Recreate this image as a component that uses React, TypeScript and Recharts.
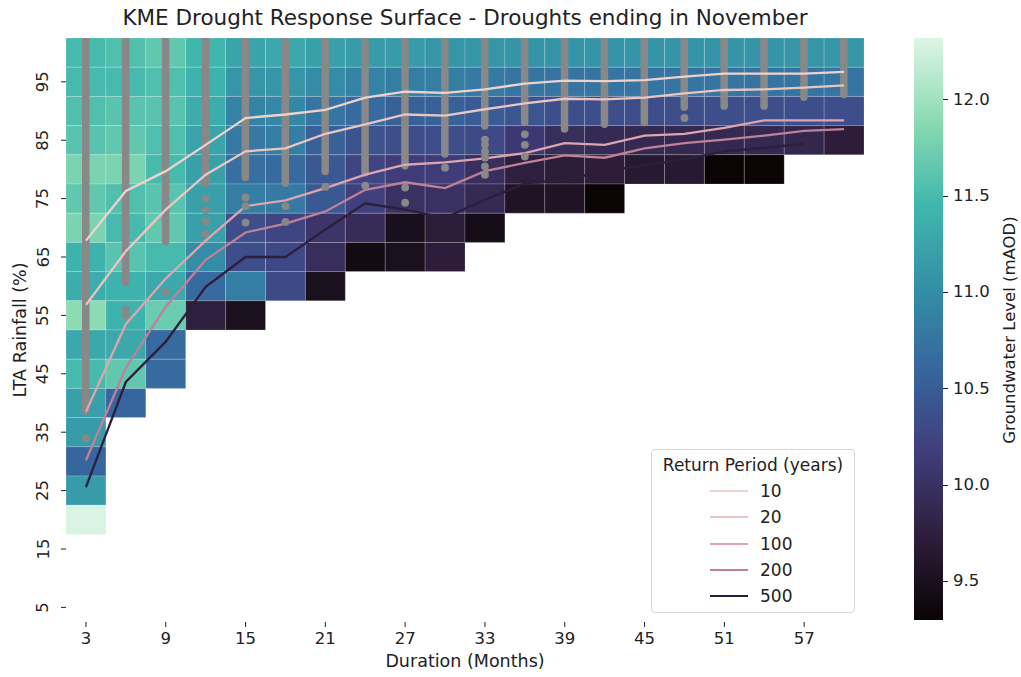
import React from 'react';
import { ComposedChart, XAxis, YAxis, Line, Bar, Scatter, ReferenceArea, Legend } from 'recharts';

const durations = [3, 6, 9, 12, 15, 18, 21, 24, 27, 30, 33, 36, 39, 42, 45, 48, 51, 54, 57, 60];
const rainfallRows = [100, 95, 90, 85, 80, 75, 70, 65, 60, 55, 50, 45, 40, 35, 30, 25, 20];

const _ = null;
// groundwater level (mAOD), one row per rainfall %, one column per duration
const groundwaterLevel: (number | null)[][] = [
  [11.5, 11.55, 11.65, 11.45, 11.25, 11.3, 11.2, 11.15, 11.15, 11.1, 11.1, 11.08, 11.08, 11.08, 11.08, 11.08, 11.08, 11.08, 11.1, 11.1],
  [11.5, 11.5, 11.55, 11.4, 11.1, 11.1, 11.0, 10.9, 10.85, 10.85, 10.8, 10.75, 10.75, 10.75, 10.75, 10.75, 10.75, 10.75, 10.75, 10.75],
  [11.55, 11.6, 11.6, 11.35, 10.9, 10.95, 10.75, 10.65, 10.55, 10.55, 10.5, 10.42, 10.35, 10.35, 10.35, 10.35, 10.35, 10.35, 10.35, 10.35],
  [11.6, 11.65, 11.55, 11.25, 10.8, 10.85, 10.55, 10.4, 10.35, 10.35, 10.3, 10.1, 9.95, 9.9, 9.88, 9.88, 9.88, 9.88, 9.85, 9.72],
  [11.8, 11.8, 11.5, 11.2, 10.7, 10.65, 10.45, 10.25, 10.15, 10.15, 9.97, 9.75, 9.7, 9.72, 9.65, 9.65, 9.3, 9.3, _, _],
  [11.65, 11.55, 11.6, 11.2, 10.85, 10.8, 10.45, 10.2, 10.0, 10.0, 9.9, 9.55, 9.55, 9.3, _, _, _, _, _, _],
  [11.8, 11.5, 11.65, 11.2, 10.35, 10.25, 10.05, 9.92, 9.48, 9.7, 9.45, _, _, _, _, _, _, _, _, _],
  [11.4, 11.6, 11.5, 11.0, 10.35, 10.28, 9.95, 9.4, 9.5, 9.72, _, _, _, _, _, _, _, _, _, _],
  [11.35, 11.4, 11.3, 10.65, 10.85, 10.3, 9.5, _, _, _, _, _, _, _, _, _, _, _, _, _],
  [11.9, 11.4, 11.7, 9.75, 9.5, _, _, _, _, _, _, _, _, _, _, _, _, _, _, _],
  [11.3, 11.3, 10.65, _, _, _, _, _, _, _, _, _, _, _, _, _, _, _, _, _],
  [11.5, 11.65, 10.65, _, _, _, _, _, _, _, _, _, _, _, _, _, _, _, _, _],
  [11.2, 10.6, _, _, _, _, _, _, _, _, _, _, _, _, _, _, _, _, _, _],
  [11.15, _, _, _, _, _, _, _, _, _, _, _, _, _, _, _, _, _, _, _],
  [10.6, _, _, _, _, _, _, _, _, _, _, _, _, _, _, _, _, _, _, _],
  [11.15, _, _, _, _, _, _, _, _, _, _, _, _, _, _, _, _, _, _, _],
  [12.3, _, _, _, _, _, _, _, _, _, _, _, _, _, _, _, _, _, _, _],
];

// return period curves (LTA rainfall %)
const rp10 = [67.8, 76.3, 79.7, 84.2, 88.8, 89.4, 90.2, 92.3, 93.3, 93.1, 93.7, 94.7, 95.2, 95.1, 95.3, 95.9, 96.4, 96.4, 96.4, 96.7];
const rp20 = [56.8, 66.0, 73.1, 79.1, 83.1, 83.6, 86.1, 87.7, 89.4, 89.2, 90.3, 91.3, 92.1, 92.0, 92.3, 93.0, 93.6, 93.7, 94.0, 94.4];
const rp100 = [38.5, 53.5, 61.3, 67.8, 73.7, 74.7, 76.8, 79.1, 80.8, 81.2, 81.9, 82.8, 84.5, 84.2, 85.8, 86.1, 87.1, 88.4, 88.4, 88.4];
const rp200 = [30.2, 46.0, 56.5, 64.5, 69.2, 70.7, 72.8, 76.5, 77.8, 76.8, 79.7, 81.1, 82.4, 82.0, 83.6, 84.5, 85.1, 85.8, 86.6, 86.9];
const rp500 = [25.6, 43.6, 50.5, 59.9, 65.0, 65.0, 69.7, 74.2, 73.1, 71.7, 74.8, 77.6, 78.2, 79.7, 80.7, 81.7, 83.1, 83.7, 84.4, null];

// observed droughts: dense band down to stripLow, then loose points
const stripLow = [38, 60, 67, 77, 78, 77, 79, 78.8, 80, 82, 86.8, 87.4, 86.3, 87.1, 87.4, 90, 90.2, 90.2, 91.7, 92.2];
const looseDots = [
  { d: 3, v: 34 },
  { d: 6, v: 56 }, { d: 6, v: 55 },
  { d: 9, v: 59 },
  { d: 12, v: 75 }, { d: 12, v: 73 }, { d: 12, v: 71 }, { d: 12, v: 69 },
  { d: 15, v: 75.2 }, { d: 15, v: 73.7 }, { d: 15, v: 70.9 },
  { d: 18, v: 73.7 }, { d: 18, v: 71 },
  { d: 21, v: 77 },
  { d: 24, v: 77.2 },
  { d: 27, v: 76.9 }, { d: 27, v: 74.3 },
  { d: 30, v: 80.3 },
  { d: 33, v: 85.1 }, { d: 33, v: 84.2 }, { d: 33, v: 83.1 }, { d: 33, v: 82 }, { d: 33, v: 80.5 }, { d: 33, v: 79.1 },
  { d: 36, v: 86 }, { d: 36, v: 84.2 }, { d: 36, v: 82.2 },
  { d: 48, v: 88.8 },
];

const xTicks = [3, 9, 15, 21, 27, 33, 39, 45, 51, 57];
const yTicks = [5, 15, 25, 35, 45, 55, 65, 75, 85, 95];
const cbarTicks = [9.5, 10.0, 10.5, 11.0, 11.5, 12.0];

const VMIN = 9.3;
const VMAX = 12.32;
const mako = ['#0b0405', '#2e1e3b', '#413d7b', '#37659e', '#348fa7', '#40b7ad', '#8bdab2', '#def5e5'];

const series = [
  { key: 'r10', label: '10', color: '#eed3cd' },
  { key: 'r20', label: '20', color: '#e9c6c2' },
  { key: 'r100', label: '100', color: '#dca5af' },
  { key: 'r200', label: '200', color: '#bf8099' },
  { key: 'r500', label: '500', color: '#2d1e3e' },
];

const FONT = '"DejaVu Sans", sans-serif';
const INK = '#222';

function hexRgb(h: string) {
  return [1, 3, 5].map((i) => parseInt(h.slice(i, i + 2), 16));
}

function makoColor(v: number) {
  let t = (v - VMIN) / (VMAX - VMIN);
  t = Math.max(0, Math.min(1, t));
  const p = t * (mako.length - 1);
  const i = Math.min(mako.length - 2, Math.floor(p));
  const f = p - i;
  const a = hexRgb(mako[i]);
  const b = hexRgb(mako[i + 1]);
  const c = a.map((x, k) => Math.round(x + (b[k] - x) * f));
  return `rgb(${c[0]},${c[1]},${c[2]})`;
}

const chartData = durations.map((d, i) => ({
  d,
  r10: rp10[i],
  r20: rp20[i],
  r100: rp100[i],
  r200: rp200[i],
  r500: rp500[i],
  strip: [stripLow[i], 102.5],
}));

const YTick = (props: any) => {
  const { x, y, payload } = props;
  return (
    <text
      x={x - 6}
      y={y}
      transform={`rotate(-90, ${x - 6}, ${y})`}
      textAnchor="middle"
      dominantBaseline="central"
      fontSize={16.5}
      fontFamily={FONT}
      fill={INK}
    >
      {payload.value}
    </text>
  );
};

const LegendBox = () => (
  <div
    style={{
      border: '1px solid #d6d6d6',
      borderRadius: 4,
      background: 'rgba(255,255,255,0.85)',
      width: 204,
      height: 164,
      boxSizing: 'border-box',
      fontFamily: FONT,
      color: INK,
    }}
  >
    <div style={{ fontSize: 17, lineHeight: '20px', textAlign: 'center', paddingTop: 5, height: 28, boxSizing: 'border-box' }}>
      Return Period (years)
    </div>
    {series.map((s) => (
      <div key={s.key} style={{ display: 'flex', alignItems: 'center', height: 26.3 }}>
        <div style={{ marginLeft: 58, width: 38, height: 2, background: s.color }} />
        <div style={{ marginLeft: 12, fontSize: 17 }}>{s.label}</div>
      </div>
    ))}
  </div>
);

export default function App() {
  const cbarTop = 38;
  const cbarH = 582;
  const stops = mako.map((c, i) => `${c} ${((i / (mako.length - 1)) * 100).toFixed(2)}%`).join(', ');
  return (
    <div style={{ position: 'absolute', left: 0, top: 0, width: 1021, height: 677, background: '#fff', fontFamily: FONT }}>
      <div style={{ position: 'absolute', left: 0, width: 930, top: 5, textAlign: 'center', fontSize: 21.5, color: INK }}>
        KME Drought Response Surface - Droughts ending in November
      </div>
      <ComposedChart width={1021} height={677} data={chartData} margin={{ top: 38, right: 157, bottom: 25, left: 0 }}>
        <XAxis
          dataKey="d"
          type="number"
          domain={[1.5, 61.5]}
          ticks={xTicks}
          interval={0}
          allowDataOverflow
          axisLine={false}
          tickSize={5}
          tickMargin={5}
          height={30}
          tickLine={{ stroke: INK }}
          tick={{ fontSize: 16.5, fontFamily: FONT, fill: INK }}
        />
        <YAxis
          type="number"
          domain={[2.5, 102.5]}
          ticks={yTicks}
          interval={0}
          allowDataOverflow
          axisLine={false}
          tickSize={5}
          tickMargin={12}
          width={66}
          tickLine={{ stroke: INK }}
          tick={<YTick />}
        />
        {rainfallRows.flatMap((r, ri) =>
          durations.map((d, ci) => {
            const v = groundwaterLevel[ri][ci];
            if (v == null) return null;
            return (
              <ReferenceArea
                key={`c${ri}-${ci}`}
                x1={d - 1.5}
                x2={d + 1.5}
                y1={r - 2.5}
                y2={r + 2.5}
                fill={makoColor(v)}
                fillOpacity={1}
                stroke="#ffffff"
                strokeOpacity={0.3}
                strokeWidth={0.6}
              />
            );
          })
        )}
        <Bar dataKey="strip" barSize={7.5} fill="#888888" radius={[0, 0, 3.7, 3.7]} isAnimationActive={false} legendType="none" />
        <Scatter
          data={looseDots}
          dataKey="v"
          fill="#888888"
          isAnimationActive={false}
          legendType="none"
          shape={(p: any) => <circle cx={p.cx} cy={p.cy} r={3.9} fill="#888888" />}
        />
        {series.map((s) => (
          <Line
            key={s.key}
            dataKey={s.key}
            type="linear"
            stroke={s.color}
            strokeWidth={2.3}
            dot={false}
            isAnimationActive={false}
          />
        ))}
        <Legend
          layout="vertical"
          align="center"
          verticalAlign="middle"
          wrapperStyle={{ left: 651, top: 449, width: 204 }}
          content={() => <LegendBox />}
        />
      </ComposedChart>

      <div style={{ position: 'absolute', left: 465, top: 651, transform: 'translateX(-50%)', fontSize: 17.5, lineHeight: '21px', color: INK, whiteSpace: 'nowrap' }}>
        Duration (Months)
      </div>
      <div
        style={{
          position: 'absolute',
          left: 20,
          top: 330,
          transform: 'translate(-50%, -50%) rotate(-90deg)',
          fontSize: 17.5,
          color: INK,
          whiteSpace: 'nowrap',
        }}
      >
        LTA Rainfall (%)
      </div>

      <div
        style={{
          position: 'absolute',
          left: 914,
          top: cbarTop,
          width: 29,
          height: cbarH,
          background: `linear-gradient(to top, ${stops})`,
        }}
      />
      {cbarTicks.map((t) => {
        const y = cbarTop + ((VMAX - t) / (VMAX - VMIN)) * cbarH;
        return (
          <React.Fragment key={t}>
            <div style={{ position: 'absolute', left: 943, top: y - 0.5, width: 5, height: 1, background: INK }} />
            <div style={{ position: 'absolute', left: 953, top: y - 10, fontSize: 16.5, lineHeight: '20px', color: INK }}>
              {t.toFixed(1)}
            </div>
          </React.Fragment>
        );
      })}
      <div
        style={{
          position: 'absolute',
          left: 1009,
          top: 330,
          transform: 'translate(-50%, -50%) rotate(-90deg)',
          fontSize: 16.5,
          color: INK,
          whiteSpace: 'nowrap',
        }}
      >
        Groundwater Level (mAOD)
      </div>
    </div>
  );
}
